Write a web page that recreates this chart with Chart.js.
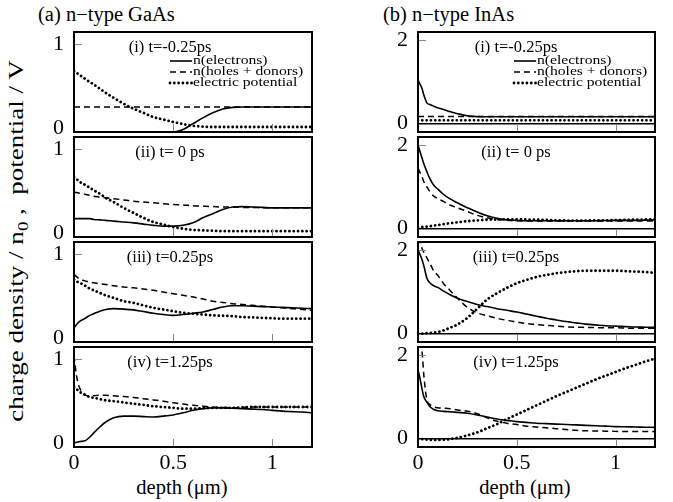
<!DOCTYPE html>
<html lang="en">
<head>
<meta charset="UTF-8">
<title>charge density and potential vs depth</title>
<script src="https://cdn.jsdelivr.net/npm/chart.js"></script>
<style>
  body { margin:0; background:#fff; width:673px; height:502px; position:relative; overflow:hidden;
         font-family:'Liberation Serif','DejaVu Serif',serif; color:#000; }
  .lbl { position:absolute; white-space:nowrap; line-height:20px; }
  .ctr { transform:translateX(-50%); }
  canvas { position:absolute; }
</style>
</head>
<body>
<div class="lbl" style="left:38px;top:4px;font-size:20.5px">(a) n−type GaAs</div>
<div class="lbl" style="left:383px;top:4px;font-size:20.5px">(b) n−type InAs</div>
<div class="lbl" style="left:20px;top:241px;font-size:20px;transform:translate(-50%,-50%) rotate(-90deg) scaleX(1.35)">charge density / n<sub style="font-size:14px">0</sub> , &nbsp;potential / V</div>
<div class="lbl ctr" style="left:182px;top:477px;font-size:20.5px">depth (μm)</div>
<div class="lbl ctr" style="left:525px;top:477px;font-size:20.5px">depth (μm)</div>

<script>
// depth grid (um) shared by every curve
const depth = [0,0.01,0.02,0.03,0.045,0.06,0.08,0.1,0.13,0.16,0.2,0.25,0.3,0.35,0.4,0.45,0.5,0.55,0.6,0.65,0.7,0.75,0.8,0.85,0.9,0.95,1.0,1.05,1.1,1.15,1.2];
const xTicks = [0, 0.5, 1];
const gaasTicks = [0, 1];
const inasTicks = [0, 2];
const timeLabels = ['(i) t=-0.25ps', '(ii) t= 0 ps', '(iii) t=0.25ps', '(iv) t=1.25ps'];
const seriesNames = ['n(electrons)', 'n(holes + donors)', 'electric potential'];

// (a) GaAs
const gaas1Elec  = [-0.05,-0.05,-0.05,-0.05,-0.05,-0.05,-0.05,-0.05,-0.05,-0.05,-0.05,-0.05,-0.05,-0.05,-0.05,-0.05,-0.05,-0.02,0.05,0.12,0.18,0.225,0.245,0.25,0.25,0.25,0.25,0.25,0.25,0.25,0.25];
const gaas1Holes = [0.25,0.25,0.25,0.25,0.25,0.25,0.25,0.25,0.25,0.25,0.25,0.25,0.25,0.25,0.25,0.25,0.25,0.25,0.25,0.25,0.25,0.25,0.25,0.25,0.25,0.25,0.25,0.25,0.25,0.25,0.25];
const gaas1Pot   = [0.68,0.66,0.65,0.63,0.61,0.58,0.55,0.52,0.47,0.42,0.36,0.29,0.23,0.18,0.13,0.10,0.07,0.045,0.025,0.015,0.01,0.01,0.01,0.01,0.01,0.01,0.01,0.01,0.01,0.01,0.01];

const gaas2Elec  = [0.17,0.17,0.17,0.17,0.17,0.17,0.17,0.16,0.155,0.15,0.14,0.13,0.12,0.105,0.09,0.08,0.08,0.09,0.12,0.18,0.23,0.28,0.31,0.315,0.31,0.305,0.30,0.30,0.30,0.30,0.30];
const gaas2Holes = [0.49,0.485,0.48,0.475,0.47,0.46,0.45,0.44,0.43,0.42,0.41,0.395,0.38,0.37,0.36,0.35,0.34,0.335,0.325,0.32,0.315,0.31,0.31,0.305,0.305,0.30,0.30,0.30,0.30,0.30,0.30];
const gaas2Pot   = [0.67,0.65,0.63,0.61,0.59,0.57,0.54,0.51,0.47,0.42,0.37,0.30,0.24,0.18,0.13,0.10,0.07,0.05,0.035,0.03,0.025,0.02,0.02,0.02,0.02,0.02,0.02,0.02,0.02,0.02,0.02];

const gaas3Elec  = [0.12,0.15,0.18,0.20,0.22,0.24,0.27,0.29,0.32,0.34,0.35,0.345,0.335,0.315,0.295,0.28,0.27,0.28,0.295,0.31,0.34,0.37,0.385,0.385,0.38,0.375,0.37,0.365,0.36,0.355,0.35];
const gaas3Holes = [0.76,0.74,0.72,0.70,0.69,0.68,0.67,0.66,0.65,0.64,0.625,0.61,0.60,0.585,0.57,0.55,0.53,0.51,0.49,0.465,0.44,0.425,0.41,0.40,0.39,0.38,0.37,0.36,0.35,0.34,0.33];
const gaas3Pot   = [0.70,0.68,0.67,0.66,0.64,0.62,0.59,0.57,0.54,0.51,0.48,0.44,0.42,0.39,0.36,0.34,0.32,0.30,0.29,0.28,0.27,0.265,0.26,0.25,0.245,0.24,0.235,0.23,0.23,0.23,0.23];

const gaas4Elec  = [0.0,0.005,0.01,0.015,0.02,0.03,0.07,0.12,0.19,0.25,0.30,0.32,0.32,0.315,0.31,0.32,0.335,0.36,0.39,0.41,0.42,0.42,0.415,0.41,0.405,0.40,0.39,0.38,0.375,0.37,0.36];
const gaas4Holes = [1.05,0.85,0.72,0.65,0.60,0.57,0.56,0.565,0.57,0.57,0.565,0.555,0.545,0.53,0.515,0.50,0.48,0.465,0.45,0.44,0.43,0.425,0.42,0.425,0.43,0.43,0.43,0.43,0.43,0.43,0.43];
const gaas4Pot   = [0.67,0.65,0.63,0.61,0.59,0.57,0.55,0.54,0.525,0.51,0.50,0.485,0.47,0.455,0.44,0.43,0.42,0.41,0.41,0.415,0.42,0.42,0.42,0.425,0.43,0.43,0.43,0.43,0.43,0.43,0.43];

// (b) InAs
const inas1Elec  = [1.05,0.95,0.85,0.68,0.50,0.46,0.42,0.38,0.34,0.29,0.24,0.19,0.17,0.165,0.165,0.165,0.165,0.165,0.165,0.165,0.165,0.165,0.165,0.165,0.165,0.165,0.165,0.165,0.165,0.165,0.165];
const inas1Holes = [0.17,0.17,0.17,0.17,0.17,0.17,0.17,0.17,0.17,0.17,0.17,0.17,0.17,0.17,0.17,0.17,0.17,0.17,0.17,0.17,0.17,0.17,0.17,0.17,0.17,0.17,0.17,0.17,0.17,0.17,0.17];
const inas1Pot   = [0.08,0.08,0.08,0.08,0.08,0.08,0.08,0.08,0.08,0.08,0.08,0.08,0.08,0.08,0.08,0.08,0.08,0.08,0.08,0.08,0.08,0.08,0.08,0.08,0.08,0.08,0.08,0.08,0.08,0.08,0.08];

const inas2Elec  = [2.01,1.85,1.70,1.55,1.37,1.20,1.04,0.95,0.82,0.72,0.62,0.50,0.40,0.31,0.25,0.21,0.20,0.19,0.19,0.19,0.19,0.19,0.19,0.19,0.19,0.195,0.20,0.20,0.20,0.205,0.21];
const inas2Holes = [1.45,1.35,1.25,1.12,1.00,0.89,0.78,0.72,0.65,0.57,0.50,0.41,0.32,0.26,0.22,0.20,0.19,0.185,0.185,0.185,0.185,0.185,0.185,0.185,0.185,0.185,0.185,0.185,0.185,0.185,0.185];
const inas2Pot   = [0.03,0.035,0.04,0.045,0.05,0.06,0.075,0.085,0.11,0.13,0.155,0.18,0.20,0.215,0.22,0.225,0.225,0.22,0.215,0.21,0.20,0.195,0.19,0.195,0.20,0.20,0.205,0.21,0.215,0.22,0.22];

const inas3Elec  = [2.0,1.9,1.78,1.62,1.33,1.22,1.15,1.11,1.02,0.94,0.85,0.77,0.70,0.65,0.60,0.56,0.52,0.47,0.42,0.37,0.33,0.29,0.26,0.23,0.21,0.19,0.18,0.17,0.16,0.155,0.15];
const inas3Holes = [2.3,2.2,2.05,1.95,1.82,1.69,1.50,1.40,1.20,1.05,0.85,0.63,0.50,0.43,0.37,0.32,0.28,0.24,0.22,0.20,0.18,0.165,0.155,0.15,0.145,0.14,0.14,0.135,0.13,0.13,0.13];
const inas3Pot   = [0.0,0.0,0.0,0.005,0.01,0.015,0.025,0.04,0.08,0.14,0.22,0.38,0.60,0.82,0.97,1.10,1.21,1.29,1.36,1.41,1.45,1.48,1.50,1.51,1.51,1.51,1.51,1.50,1.49,1.48,1.46];

const inas4Elec  = [1.65,1.45,1.20,1.00,0.88,0.77,0.70,0.67,0.655,0.645,0.63,0.61,0.57,0.52,0.47,0.44,0.41,0.39,0.37,0.36,0.35,0.34,0.33,0.32,0.31,0.30,0.29,0.285,0.28,0.275,0.27];
const inas4Holes = [2.3,2.25,2.1,1.5,0.93,0.82,0.76,0.74,0.73,0.72,0.69,0.66,0.60,0.50,0.42,0.37,0.34,0.30,0.28,0.26,0.24,0.22,0.20,0.19,0.185,0.18,0.175,0.17,0.17,0.17,0.17];
const inas4Pot   = [0.0,-0.005,-0.01,-0.015,-0.02,-0.025,-0.03,-0.03,-0.025,-0.01,0.02,0.08,0.15,0.25,0.35,0.47,0.58,0.69,0.80,0.91,1.02,1.12,1.22,1.32,1.42,1.51,1.60,1.69,1.77,1.85,1.92];

const panelTops = [32, 137, 242, 347];
const panelH = 100;

const columns = [
  { left:0, width:330, plotLeft:74, plotRight:312, yMin:-0.05, yMax:1.15, ticks:gaasTicks, zeroLine:false, labelX:170,
    sets:[[gaas1Elec,gaas1Holes,gaas1Pot],[gaas2Elec,gaas2Holes,gaas2Pot],[gaas3Elec,gaas3Holes,gaas3Pot],[gaas4Elec,gaas4Holes,gaas4Pot]] },
  { left:336, width:337, plotLeft:418, plotRight:655, yMin:-0.2, yMax:2.2, ticks:inasTicks, zeroLine:true, labelX:516,
    sets:[[inas1Elec,inas1Holes,inas1Pot],[inas2Elec,inas2Holes,inas2Pot],[inas3Elec,inas3Holes,inas3Pot],[inas4Elec,inas4Holes,inas4Pot]] }
];

const lineStyles = [
  { borderColor:'#000', borderWidth:1.6 },
  { borderColor:'#000', borderWidth:1.5, borderDash:[6,4] },
  { borderColor:'#000', borderWidth:2.8, borderDash:[0.01,4.3], borderCapStyle:'round' }
];

Chart.defaults.font.family = "'Liberation Serif','DejaVu Serif',serif";
Chart.defaults.color = '#000';

// frame, inward ticks and the small legend of the top panels
const panelBox = {
  id: 'panelBox',
  afterDatasetsDraw(chart, args, opts) {
    const { ctx, chartArea: a, scales: { x, y } } = chart;
    ctx.save();
    ctx.strokeStyle = '#888';
    ctx.lineWidth = 1;
    x.ticks.forEach(t => {
      if (t.value <= 0) return;
      const px = Math.round(x.getPixelForValue(t.value)) + 0.5;
      ctx.beginPath(); ctx.moveTo(px, a.bottom); ctx.lineTo(px, a.bottom - 8); ctx.stroke();
    });
    y.ticks.forEach(t => {
      if (t.value <= 0) return;
      const py = Math.round(y.getPixelForValue(t.value)) + 0.5;
      ctx.beginPath(); ctx.moveTo(a.left, py); ctx.lineTo(a.left + 8, py); ctx.stroke();
    });
    ctx.strokeStyle = '#000';
    ctx.lineWidth = 2;
    ctx.strokeRect(a.left, a.top, a.width, a.height);

    if (opts.legend) {
      ctx.font = "12px 'Liberation Serif', serif";
      ctx.textBaseline = 'middle';
      ctx.fillStyle = '#000';
      chart.data.datasets.forEach((ds, k) => {
        const ly = a.top + 29 + 11 * k;
        ctx.save();
        ctx.strokeStyle = ds.borderColor;
        ctx.lineWidth = ds.borderWidth;
        ctx.lineCap = ds.borderCapStyle || 'butt';
        ctx.setLineDash(ds.borderDash || []);
        ctx.beginPath(); ctx.moveTo(a.left + 96, ly); ctx.lineTo(a.left + 118, ly); ctx.stroke();
        ctx.restore();
        ctx.save();
        ctx.translate(a.left + 119, ly);
        ctx.scale(1.3, 1);
        ctx.fillText(ds.label, 0, 0);
        ctx.restore();
      });
    }
    ctx.restore();
  }
};

function makePanel(col, row) {
  const isBottom = row === 3;
  const padTop = 4, padBottom = 4;
  const xH = isBottom ? 30 : 0;
  const cv = document.createElement('canvas');
  cv.width = col.width;
  cv.height = padTop + panelH + xH + padBottom;
  cv.style.left = col.left + 'px';
  cv.style.top = (panelTops[row] - padTop) + 'px';
  document.body.appendChild(cv);

  const lab = document.createElement('div');
  lab.className = 'lbl ctr';
  lab.style.cssText = 'left:' + col.labelX + 'px;top:' + (panelTops[row] + 5) + 'px;font-size:16.5px';
  lab.textContent = timeLabels[row];
  document.body.appendChild(lab);

  new Chart(cv, {
    type: 'line',
    data: {
      datasets: col.sets[row].map((vals, k) => Object.assign({
        label: seriesNames[k],
        data: depth.map((d, i) => ({ x: d, y: vals[i] })),
        pointRadius: 0,
        fill: false,
        cubicInterpolationMode: 'monotone'
      }, lineStyles[k]))
    },
    options: {
      responsive: false,
      animation: false,
      devicePixelRatio: 1,
      layout: { padding: { top: padTop, bottom: padBottom, left: 0, right: col.width - (col.plotRight - col.left) } },
      plugins: { legend: { display: false }, tooltip: { enabled: false }, panelBox: { legend: row === 0 } },
      scales: {
        x: {
          type: 'linear', min: 0, max: 1.2,
          afterBuildTicks: s => { s.ticks = xTicks.map(v => ({ value: v })); },
          afterFit: s => { s.height = xH; s.paddingLeft = 0; s.paddingRight = 0; },
          grid: { display: false, drawTicks: false }, border: { display: false },
          ticks: { display: isBottom, padding: 3, maxRotation: 0, font: { size: 22 }, callback: v => String(v) }
        },
        y: {
          type: 'linear', min: col.yMin, max: col.yMax,
          afterBuildTicks: s => { s.ticks = col.ticks.map(v => ({ value: v })); },
          afterFit: s => { s.width = col.plotLeft - col.left; s.paddingTop = 0; s.paddingBottom = 0; },
          grid: { display: col.zeroLine, drawTicks: false, lineWidth: 1.5,
                  color: c => (c.tick && c.tick.value === 0) ? '#000' : 'rgba(0,0,0,0)' },
          border: { display: false },
          ticks: { padding: 10, font: { size: 22 }, callback: v => String(v) }
        }
      }
    },
    plugins: [panelBox]
  });
}

columns.forEach(col => { for (let r = 0; r < 4; r++) makePanel(col, r); });
</script>
</body>
</html>
